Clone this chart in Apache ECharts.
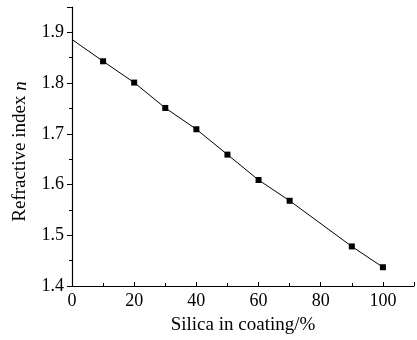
<!DOCTYPE html>
<html><head><meta charset="utf-8">
<script src="https://cdn.jsdelivr.net/npm/echarts@6/dist/echarts.min.js"></script>
<style>html,body{margin:0;padding:0;background:#fff}#c{width:417px;height:340px}</style>
</head><body><div id="c"></div>
<script>
var silica = [0, 10, 20, 30, 40, 50, 60, 70, 90, 100];
var refractive = [1.886, 1.843, 1.801, 1.751, 1.709, 1.659, 1.609, 1.568, 1.478, 1.437];
var markerShown = [false, true, true, true, true, true, true, true, true, true];
var xTicks = [0, 20, 40, 60, 80, 100];
var yTicks = [1.4, 1.5, 1.6, 1.7, 1.8, 1.9];

var data = silica.map(function (x, i) {
  var d = { value: [x, refractive[i]] };
  if (!markerShown[i]) d.symbol = 'none';
  return d;
});
var font = 'Liberation Serif';
var chart = echarts.init(document.getElementById('c'), null, { renderer: 'canvas' });
chart.setOption({
  animation: false,
  backgroundColor: '#fff',
  grid: { left: 72, right: 0, top: 7, bottom: 53 },
  xAxis: {
    type: 'value', min: 0, max: 110, interval: 20,
    name: 'Silica in coating/%', nameLocation: 'middle', nameGap: 30,
    nameTextStyle: { fontFamily: font, fontSize: 19, color: '#000' },
    axisLine: { lineStyle: { color: '#000', width: 1.2 } },
    axisTick: { inside: true, length: 4, lineStyle: { color: '#000' } },
    minorTick: { show: true, splitNumber: 2, length: 3, lineStyle: { color: '#000' } },
    splitLine: { show: false },
    axisLabel: {
      margin: 6, fontFamily: font, fontSize: 18, color: '#000',
      formatter: function (v) { return xTicks.indexOf(v) >= 0 ? String(v) : ''; }
    }
  },
  yAxis: {
    type: 'value', min: 1.4, max: 1.95, interval: 0.1,
    name: '{a|Refractive index }{b|n}', nameLocation: 'middle', nameGap: 42,
    nameTextStyle: {
      fontFamily: font, fontSize: 19, color: '#000', padding: [0, 10, 0, 0],
      rich: { a: { fontFamily: font, fontSize: 19, color: '#000' },
              b: { fontFamily: font, fontSize: 19, color: '#000', fontStyle: 'italic' } }
    },
    axisLine: { show: true, lineStyle: { color: '#000', width: 1.2 } },
    axisTick: { inside: false, length: 5, lineStyle: { color: '#000' } },
    minorTick: { show: true, splitNumber: 2, length: 3, lineStyle: { color: '#000' } },
    splitLine: { show: false },
    axisLabel: {
      margin: 8, fontFamily: font, fontSize: 18, color: '#000',
      formatter: function (v) {
        for (var i = 0; i < yTicks.length; i++) if (Math.abs(yTicks[i] - v) < 1e-6) return yTicks[i].toFixed(1);
        return '';
      }
    }
  },
  series: [{
    type: 'line', data: data,
    symbol: 'rect', symbolSize: 6,
    lineStyle: { color: '#000', width: 1 },
    itemStyle: { color: '#000' }
  }]
});
</script></body></html>
